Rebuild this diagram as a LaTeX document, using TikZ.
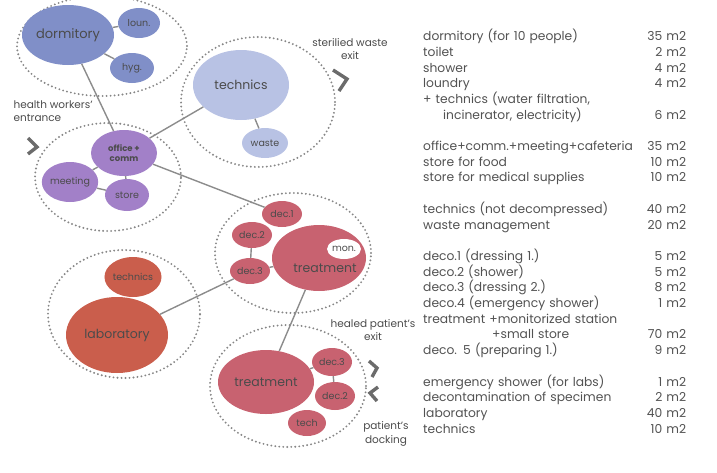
\documentclass[tikz,border=0pt]{standalone}
\usepackage{fontspec}
\setmainfont{Poppins}
\usetikzlibrary{shapes.geometric}
\definecolor{dormblue}{RGB}{128,143,200}
\definecolor{techblue}{RGB}{184,194,228}
\definecolor{officepurple}{RGB}{162,128,200}
\definecolor{treatred}{RGB}{200,98,112}
\definecolor{labred}{RGB}{202,94,76}
\definecolor{textgray}{RGB}{75,75,75}
\definecolor{linegray}{RGB}{140,140,140}
\definecolor{dotgray}{RGB}{135,135,135}

\begin{document}
\begin{tikzpicture}[x=1pt,y=-1pt,
room node/.style={ellipse,inner sep=0,text=textgray},
zone node/.style={ellipse,draw=dotgray,line width=2.1pt,dash pattern=on 0pt off 4pt,line cap=round,inner sep=0},
link/.style={draw=linegray,line width=1.4pt},
chevron/.style={draw=black!58,line width=3.4pt},
label text/.style={text=textgray,font=\fontsize{10.5}{13.5}\selectfont},
small/.style={font=\fontsize{9.5}{10}\selectfont},
big/.style={font=\fontsize{12.5}{13}\selectfont}]
\useasboundingbox (0,0) rectangle (717,472);

% dotted zones
\node[zone node,minimum width=170pt,minimum height=100pt] (dormzone) at (102,46) {};
\node[zone node,minimum width=154pt,minimum height=130pt] (techzone) at (258,102) {};
\node[zone node,minimum width=146pt,minimum height=108pt] (officezone) at (108,177) {};
\node[zone node,minimum width=156pt,minimum height=120pt] (treatzone) at (293,253) {};
\node[zone node,minimum width=152pt,minimum height=128pt] (labzone) at (124,314) {};
\node[zone node,minimum width=156pt,minimum height=122pt] (bedzone) at (288,386) {};

% rooms
\node[room node,fill=dormblue,minimum width=92pt,minimum height=60pt,font=\fontsize{13}{14}\selectfont] (dorm) at (68,35) {dormitory};
\node[room node,fill=dormblue,minimum width=42pt,minimum height=30pt,small] (loun) at (139,23) {loun.};
\node[room node,fill=dormblue,minimum width=44pt,minimum height=30pt,small] (hyg) at (132,68) {hyg.};
\node[room node,fill=techblue,minimum width=96pt,minimum height=70pt,big] (tech) at (241,85) {technics};
\node[room node,fill=techblue,minimum width=46pt,minimum height=30pt,small] (waste) at (265,143) {waste};
\node[room node,fill=officepurple,minimum width=66pt,minimum height=46pt,align=center,font=\bfseries\fontsize{8.5}{9.5}\selectfont] (office) at (124,153) {office +\\comm};
\node[room node,fill=officepurple,minimum width=56pt,minimum height=40pt,small] (meeting) at (70,182) {meeting};
\node[room node,fill=officepurple,minimum width=44pt,minimum height=32pt,small] (store) at (127,195) {store};

\node[room node,fill=treatred,minimum width=40pt,minimum height=26pt,small] (dec1) at (282,214) {dec.1};
\node[room node,fill=treatred,minimum width=40pt,minimum height=26pt,small] (dec2) at (252,235) {dec.2};
\node[room node,fill=treatred,minimum width=40pt,minimum height=26pt,small] (dec3) at (250,271) {dec.3};
\node[room node,fill=treatred,minimum width=94pt,minimum height=66pt] (treat) at (319,258) {};
\node[big,text=textgray,inner sep=0] (treattext) at (325,268) {treatment};
\node[room node,fill=white,minimum width=32pt,minimum height=20pt,small] (mon) at (344,249) {mon.};

\node[room node,fill=labred,minimum width=54pt,minimum height=40pt,small] (labtech) at (133,277) {technics};
\node[room node,fill=labred,minimum width=102pt,minimum height=76pt,big] (lab) at (117,335) {laboratory};

\node[room node,fill=treatred,minimum width=96pt,minimum height=64pt,big] (bedtreat) at (266,382) {treatment};
\node[room node,fill=treatred,minimum width=40pt,minimum height=28pt,small] (bdec3) at (332,362) {dec.3};
\node[room node,fill=treatred,minimum width=40pt,minimum height=28pt,small] (bdec2) at (335,396) {dec.2};
\node[room node,fill=treatred,minimum width=38pt,minimum height=26pt,small] (btech) at (307,423) {tech};

% links
\draw[link] (dorm) -- (office);
\draw[link] (dorm) -- (loun);
\draw[link] (dorm) -- (hyg);
\draw[link] (office) -- (tech);
\draw[link] (tech) -- (waste);
\draw[link] (office) -- (meeting);
\draw[link] (office) -- (store);
\draw[link] (meeting) -- (store);
\draw[link] (office) -- (dec1);
\draw[link] (dec2) -- (dec3);
\draw[link] (dec3) -- (treat);
\draw[link] (lab) -- (dec3);
\draw[link] (treat) -- (bedtreat);
\draw[link] (bedtreat) -- (bdec3);
\draw[link] (bdec3) -- (bdec2);

% entrances and exits
\draw[chevron] (333,70) -- (347,79) -- (339,91);
\draw[chevron] (28,138) -- (37,147) -- (28,154);
\draw[chevron] (369,361) -- (377,368) -- (372,377);
\draw[chevron] (378,387) -- (370,393) -- (377,401);
\node[label text,align=center] (wasteexit) at (350,49) {sterilied waste\\exit};
\node[label text,align=left,anchor=west] (entrance) at (10,111) {health workers'\\entrance};
\node[label text,align=center] (healedexit) at (373,330) {healed patient's\\exit};
\node[label text,align=center] (docking) at (386,434) {patient's\\docking};

% areas
\node[anchor=north west,inner sep=0,text width=263pt,align=left,text=black!68,
  font=\fontsize{12.3}{15.7}\selectfont] (areas) at (423,29) {\lineskiplimit=-20pt
\strut dormitory (for 10 people)\hfill 35 m2\\
toilet\hfill 2 m2\\
shower\hfill 4 m2\\
loundry\hfill 4 m2\\
+ technics (water filtration,\\
\hspace*{20pt}incinerator, electricity)\hfill 6 m2\\
\mbox{}\\
office+comm.+meeting+cafeteria\hfill 35 m2\\
store for food\hfill 10 m2\\
store for medical supplies\hfill 10 m2\\
\mbox{}\\
technics (not decompressed)\hfill 40 m2\\
waste management\hfill 20 m2\\
\mbox{}\\
deco.1 (dressing 1.)\hfill 5 m2\\
deco.2 (shower)\hfill 5 m2\\
deco.3 (dressing 2.)\hfill 8 m2\\
deco.4 (emergency shower)\hfill 1 m2\\
treatment +monitorized station\\
\hspace*{69pt}+small store\hfill 70 m2\\
deco. 5 (preparing 1.)\hfill 9 m2\\
\mbox{}\\
emergency shower (for labs)\hfill 1 m2\\
decontamination of specimen\hfill 2 m2\\
laboratory\hfill 40 m2\\
technics\hfill 10 m2};

\end{tikzpicture}
\end{document}
